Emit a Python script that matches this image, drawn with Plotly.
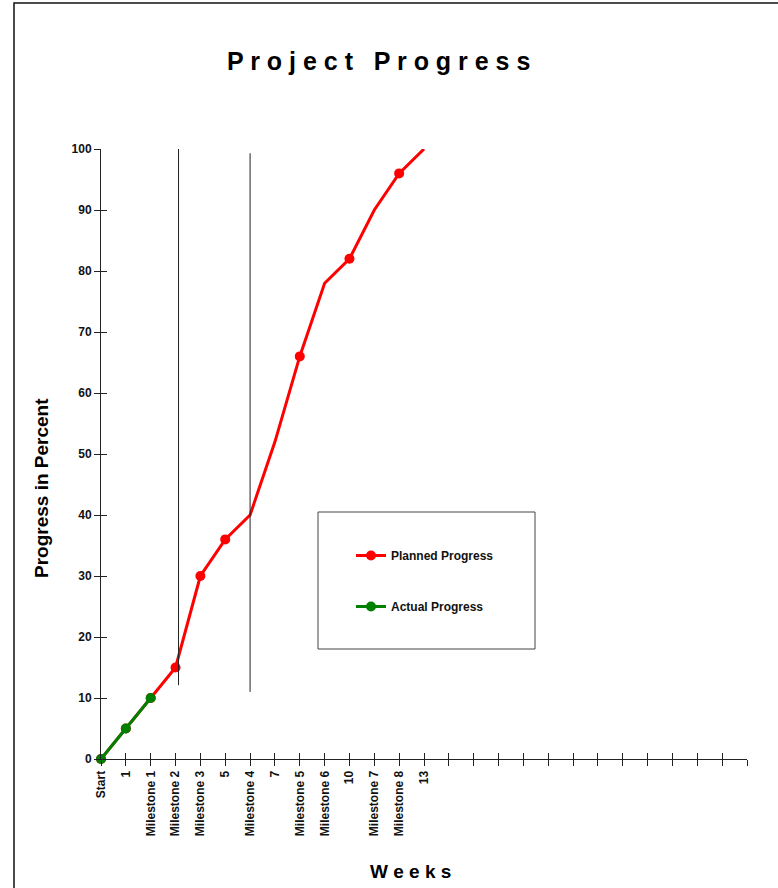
import plotly.graph_objects as go

# ---- data ----
week_labels = ["Start", "1", "Milestone 1", "Milestone 2", "Milestone 3", "5",
               "Milestone 4", "7", "Milestone 5", "Milestone 6", "10",
               "Milestone 7", "Milestone 8", "13"]
extra_ticks = 13  # unlabeled weeks after "13"
planned = [0, 5, 10, 15, 30, 36, 40, 52, 66, 78, 82, 90, 96, 100]
planned_marked = [True, True, True, True, True, True, False, False, True, False, True, False, True, False]
actual = [0, 5, 10]
milestone_line_x = [3.12, 6.0]
milestone_line_y0 = [12.1, 11.0]
milestone_line_y1 = [100.3, 99.3]
y_ticks = list(range(0, 101, 10))

FONT = "Liberation Sans, Arial, sans-serif"
n_total = len(week_labels) + extra_ticks  # 27 positions
xpos = list(range(n_total))
ticktext = week_labels + [""] * extra_ticks

fig = go.Figure()
fig.add_trace(go.Scatter(
    x=xpos[:len(planned)], y=planned, mode="lines+markers", name="Planned Progress",
    line=dict(color="#ff0000", width=3),
    marker=dict(color=["#ff0000" if m else "rgba(0,0,0,0)" for m in planned_marked],
                size=10, line=dict(width=0)),
    legendgroup="p", cliponaxis=False))
fig.add_trace(go.Scatter(
    x=xpos[:len(actual)], y=actual, mode="lines+markers", name="Actual Progress",
    line=dict(color="#008000", width=3),
    marker=dict(color="#008000", size=10, line=dict(width=0)),
    legendgroup="a", cliponaxis=False))
# invisible trace so the overlay axes (inside tick halves) are drawn
fig.add_trace(go.Scatter(x=[0], y=[0], xaxis="x2", yaxis="y2", mode="markers",
                         marker=dict(opacity=0, size=1), showlegend=False, hoverinfo="skip"))

shapes = []
for x, y0, y1 in zip(milestone_line_x, milestone_line_y0, milestone_line_y1):
    shapes.append(dict(type="line", xref="x", yref="y", x0=x, x1=x, y0=y0, y1=y1,
                       line=dict(color="#222", width=1), layer="above"))

L, R, T, B = 101, 747, 149, 759
W, H = 778, 888
def xp(px): return (px - L) / (R - L)
def yp(py): return (B - py) / (B - T)

# legend box
shapes.append(dict(type="rect", xref="paper", yref="paper", x0=xp(318), x1=xp(535),
                   y0=yp(649), y1=yp(512), line=dict(color="#444", width=1), layer="below"))
# outer frame
shapes.append(dict(type="rect", xref="paper", yref="paper", x0=xp(14), x1=xp(900),
                   y0=yp(1000), y1=yp(3), line=dict(color="#111", width=1.5), layer="below"))

annotations = [
    dict(text="P r o j e c t   P r o g r e s s", x=xp(378), y=yp(61), xref="paper", yref="paper",
         showarrow=False, font=dict(family=FONT, size=25, color="#000", weight="bold"),
         xanchor="center", yanchor="middle"),
    dict(text="W e e k s", x=xp(410), y=yp(871), xref="paper", yref="paper",
         showarrow=False, font=dict(family=FONT, size=19, color="#000", weight="bold"),
         xanchor="center", yanchor="middle"),
    dict(text="Progress in Percent", x=xp(41), y=yp(488), xref="paper", yref="paper",
         showarrow=False, textangle=-90, font=dict(family=FONT, size=19, color="#000", weight="bold"),
         xanchor="center", yanchor="middle"),
]

axis_common = dict(showgrid=False, zeroline=False, showline=True, linecolor="#222", linewidth=1,
                   tickcolor="#222", ticklen=6, tickwidth=1)
fig.update_layout(
    width=W, height=H,
    margin=dict(l=L, r=W - R, t=T, b=H - B, autoexpand=False),
    paper_bgcolor="white", plot_bgcolor="white",
    font=dict(family=FONT, color="#111"),
    showlegend=True,
    legend=dict(x=xp(351), y=yp(541), xanchor="left", yanchor="top",
                bgcolor="rgba(0,0,0,0)", borderwidth=0, tracegroupgap=32,
                font=dict(family=FONT, size=12, color="#111", weight="bold")),
    xaxis=dict(range=[0, n_total - 1], tickmode="array", tickvals=xpos, ticktext=ticktext,
               ticks="outside", tickangle=-90,
               tickfont=dict(family=FONT, size=12, color="#111", weight="bold"), **axis_common),
    yaxis=dict(range=[0, 100], tickmode="array", tickvals=y_ticks, ticks="outside",
               tickfont=dict(family=FONT, size=12, color="#111", weight="bold"), **axis_common),
    xaxis2=dict(range=[0, n_total - 1], overlaying="x", anchor="y2", side="bottom",
                tickmode="array", tickvals=xpos, ticks="inside", showticklabels=False,
                **axis_common),
    yaxis2=dict(range=[0, 100], overlaying="y", anchor="x2", side="left",
                tickmode="array", tickvals=y_ticks, ticks="inside", showticklabels=False,
                **axis_common),
    shapes=shapes, annotations=annotations,
)
fig.write_html("out.html", config={"displayModeBar": False})

# remove default page margin so the figure sits at the window origin
with open("out.html", "r", encoding="utf-8") as f:
    html = f.read()
html = html.replace("<head>", "<head><style>html,body{margin:0;padding:0;overflow:hidden;}</style>", 1)
with open("out.html", "w", encoding="utf-8") as f:
    f.write(html)
